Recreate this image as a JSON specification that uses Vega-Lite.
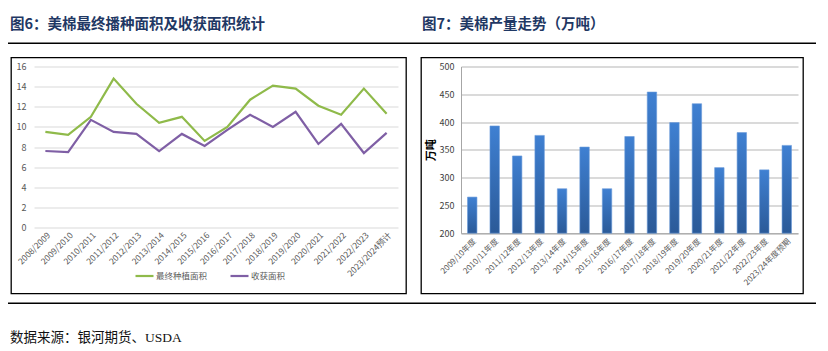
{
  "$schema": "https://vega.github.io/schema/vega-lite/v6.json",
  "padding": {"left": 8, "top": 16.5, "right": 4, "bottom": 4},
  "config": {
    "font": "Noto Sans CJK SC",
    "view": {"stroke": null},
    "axis": {"labelFont": "Noto Sans CJK SC", "titleFont": "Noto Sans CJK SC"},
    "legend": {"labelFont": "Noto Sans CJK SC"}
  },
  "spacing": 8,
  "vconcat": [
    {
      "spacing": 12,
      "vconcat": [
        {
          "spacing": 0,
          "hconcat": [
            {
              "width": 406, "height": 1.5,
              "view": {"fill": "#000000", "stroke": null},
              "data": {"values": []},
              "mark": "point",
              "encoding": {},
              "title": {"text": "图6：美棉最终播种面积及收获面积统计", "anchor": "start", "dx": 2, "fontSize": 14.5, "fontWeight": "bold", "color": "#1F3864", "offset": 10}
            },
            {
              "width": 402, "height": 1.5,
              "view": {"fill": "#000000", "stroke": null},
              "data": {"values": []},
              "mark": "point",
              "encoding": {},
              "title": {"text": "图7：美棉产量走势（万吨）", "anchor": "start", "dx": 8, "fontSize": 14.5, "fontWeight": "bold", "color": "#1F3864", "offset": 10}
            }
          ]
        },
        {
          "spacing": 13,
          "hconcat": [
            {
              "spacing": 0,
              "hconcat": [
                {
                  "width": 2, "height": 1,
                  "data": {"values": []},
                  "mark": "point",
                  "encoding": {}
                },
                {
                  "width": 395, "height": 236,
                  "view": {"stroke": "#000000", "strokeWidth": 1.3},
                  "data": {"values": [
                    {"season": "2008/2009", "series": "最终种植面积", "value": 9.5},
                    {"season": "2009/2010", "series": "最终种植面积", "value": 9.2},
                    {"season": "2010/2011", "series": "最终种植面积", "value": 11.0},
                    {"season": "2011/2012", "series": "最终种植面积", "value": 14.8},
                    {"season": "2012/2013", "series": "最终种植面积", "value": 12.3},
                    {"season": "2013/2014", "series": "最终种植面积", "value": 10.4},
                    {"season": "2014/2015", "series": "最终种植面积", "value": 11.0},
                    {"season": "2015/2016", "series": "最终种植面积", "value": 8.6},
                    {"season": "2016/2017", "series": "最终种植面积", "value": 10.0},
                    {"season": "2017/2018", "series": "最终种植面积", "value": 12.7},
                    {"season": "2018/2019", "series": "最终种植面积", "value": 14.1},
                    {"season": "2019/2020", "series": "最终种植面积", "value": 13.8},
                    {"season": "2020/2021", "series": "最终种植面积", "value": 12.1},
                    {"season": "2021/2022", "series": "最终种植面积", "value": 11.2},
                    {"season": "2022/2023", "series": "最终种植面积", "value": 13.8},
                    {"season": "2023/2024预计", "series": "最终种植面积", "value": 11.3},
                    {"season": "2008/2009", "series": "收获面积", "value": 7.6},
                    {"season": "2009/2010", "series": "收获面积", "value": 7.5},
                    {"season": "2010/2011", "series": "收获面积", "value": 10.7},
                    {"season": "2011/2012", "series": "收获面积", "value": 9.5},
                    {"season": "2012/2013", "series": "收获面积", "value": 9.3},
                    {"season": "2013/2014", "series": "收获面积", "value": 7.6},
                    {"season": "2014/2015", "series": "收获面积", "value": 9.3},
                    {"season": "2015/2016", "series": "收获面积", "value": 8.1},
                    {"season": "2016/2017", "series": "收获面积", "value": 9.7},
                    {"season": "2017/2018", "series": "收获面积", "value": 11.2},
                    {"season": "2018/2019", "series": "收获面积", "value": 10.0},
                    {"season": "2019/2020", "series": "收获面积", "value": 11.5},
                    {"season": "2020/2021", "series": "收获面积", "value": 8.3},
                    {"season": "2021/2022", "series": "收获面积", "value": 10.3},
                    {"season": "2022/2023", "series": "收获面积", "value": 7.4},
                    {"season": "2023/2024预计", "series": "收获面积", "value": 9.4}
                  ]},
                  "mark": {"type": "line", "strokeWidth": 2.2},
                  "encoding": {
                    "x": {
                      "field": "season", "type": "ordinal", "sort": null,
                      "scale": {"type": "point", "range": [23, 387], "padding": 0.5},
                      "axis": {"title": null, "offset": -66, "domain": false, "ticks": false, "grid": false, "labelAngle": -45, "labelFontSize": 8.5, "labelColor": "#595959", "labelPadding": 3}
                    },
                    "y": {
                      "field": "value", "type": "quantitative",
                      "scale": {"domain": [0, 16], "range": [170, 9], "nice": false, "zero": false},
                      "axis": {"title": null, "offset": -23, "domain": false, "ticks": false, "values": [0, 2, 4, 6, 8, 10, 12, 14, 16], "gridColor": "#D9D9D9", "gridWidth": 1, "labelFontSize": 9, "labelColor": "#595959", "labelPadding": 8}
                    },
                    "color": {
                      "field": "series", "type": "nominal",
                      "scale": {"domain": ["最终种植面积", "收获面积"], "range": ["#8FBA4A", "#7F5FA5"]},
                      "legend": {"title": null, "orient": "none", "legendX": 126, "legendY": 223, "direction": "horizontal", "symbolType": "stroke", "symbolSize": 324, "symbolStrokeWidth": 2.2, "labelFontSize": 8.5, "labelColor": "#595959", "labelOffset": 1, "columnPadding": 18}
                    }
                  }
                }
              ]
            },
            {
              "width": 382, "height": 236,
              "view": {"stroke": "#000000", "strokeWidth": 1.3},
              "data": {"values": [
                {"season": "2009/10年度", "output": 265},
                {"season": "2010/11年度", "output": 393},
                {"season": "2011/12年度", "output": 339},
                {"season": "2012/13年度", "output": 376},
                {"season": "2013/14年度", "output": 280},
                {"season": "2014/15年度", "output": 355},
                {"season": "2015/16年度", "output": 280},
                {"season": "2016/17年度", "output": 374},
                {"season": "2017/18年度", "output": 454},
                {"season": "2018/19年度", "output": 399},
                {"season": "2019/20年度", "output": 433},
                {"season": "2020/21年度", "output": 318},
                {"season": "2021/22年度", "output": 381},
                {"season": "2022/23年度", "output": 314},
                {"season": "2023/24年度预期", "output": 358}
              ]},
              "mark": {
                "type": "bar",
                "color": {"gradient": "linear", "x1": 0, "y1": 0, "x2": 0, "y2": 1, "stops": [{"offset": 0, "color": "#3F80D2"}, {"offset": 1, "color": "#2B5A98"}]},
                "stroke": "#6A9BDA", "strokeWidth": 0.6
              },
              "encoding": {
                "x": {
                  "field": "season", "type": "nominal", "sort": null,
                  "scale": {"range": [40, 377], "paddingInner": 0.58, "paddingOuter": 0.29},
                  "axis": {"title": null, "offset": -60.3, "domain": true, "domainColor": "#A6A6A6", "ticks": false, "labelAngle": -45, "labelFontSize": 8, "labelColor": "#595959", "labelPadding": 4}
                },
                "y": {
                  "field": "output", "type": "quantitative",
                  "scale": {"domain": [200, 500], "range": [175.7, 9], "nice": false, "zero": false},
                  "axis": {"title": "万吨", "offset": -40, "domain": true, "domainColor": "#A6A6A6", "ticks": false, "values": [200, 250, 300, 350, 400, 450, 500], "gridColor": "#B5B5B5", "labelFontSize": 9, "labelColor": "#404040", "labelPadding": 7, "titleFontSize": 11, "titleFontWeight": "bold", "titleColor": "#000000", "titlePadding": 3}
                },
                "y2": {"datum": 200}
              }
            }
          ]
        }
      ]
    },
    {
      "width": 808, "height": 1.5,
      "view": {"fill": "#000000", "stroke": null},
      "data": {"values": []},
      "mark": "point",
      "encoding": {},
      "title": {"text": "数据来源：银河期货、USDA", "orient": "bottom", "anchor": "start", "dx": 2, "fontSize": 13.5, "fontWeight": "normal", "color": "#111111", "font": "Liberation Serif, Noto Sans CJK SC", "offset": 27}
    }
  ]
}
